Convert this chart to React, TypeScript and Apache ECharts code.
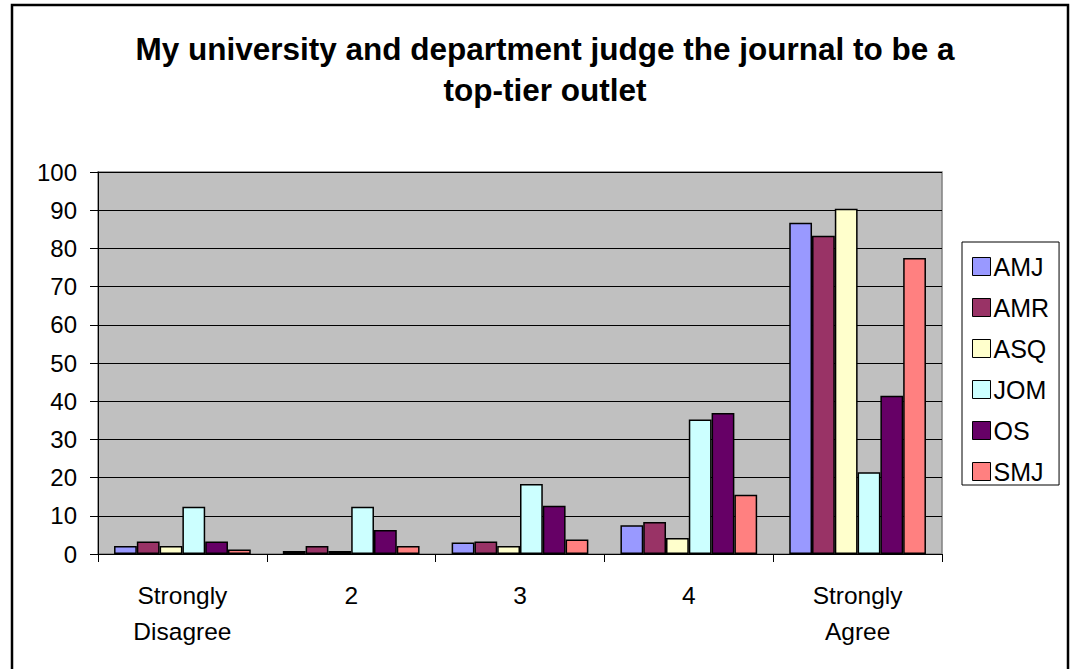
import React, { useEffect, useRef } from "react";
import * as echarts from "echarts";

const categories = ["Strongly\nDisagree", "2", "3", "4", "Strongly\nAgree"];
const seriesNames = ["AMJ", "AMR", "ASQ", "JOM", "OS", "SMJ"];
const amj = [2.1, 0.8, 3.0, 7.5, 86.7];
const amr = [3.3, 2.1, 3.3, 8.4, 83.3];
const asq = [2.1, 0.8, 2.1, 4.2, 90.4];
const jom = [12.4, 12.4, 18.3, 35.2, 21.4];
const os = [3.3, 6.3, 12.6, 36.9, 41.4];
const smj = [1.2, 2.1, 3.8, 15.5, 77.5];
const seriesValues = [amj, amr, asq, jom, os, smj];
const colors = ["#9999FF", "#993366", "#FFFFCC", "#CCFFFF", "#660066", "#FF8080"];
const yTicks = { min: 0, max: 100, interval: 10 };
const title = "My university and department judge the journal to be a\ntop-tier outlet";

export default function App() {
  const ref = useRef<HTMLDivElement>(null);
  useEffect(() => {
    if (!ref.current) return;
    const chart = echarts.init(ref.current, null, { renderer: "svg" });
    const font = "'Liberation Sans', Arial, sans-serif";
    chart.setOption({
      animation: false,
      backgroundColor: "#ffffff",
      textStyle: { fontFamily: font },
      title: {
        text: title,
        left: 540,
        textAlign: "center",
        top: 23,
        textStyle: {
          fontFamily: font,
          fontWeight: "bold",
          fontSize: 31.5,
          lineHeight: 41,
          color: "#000",
        },
      },
      graphic: [
        {
          type: "rect",
          shape: { x: 12, y: 5, width: 1056, height: 700 },
          style: { fill: "none", stroke: "#000", lineWidth: 2.5 },
          silent: true,
          z: 100,
        },
      ],
      legend: {
        orient: "vertical",
        left: 962,
        top: 242,
        width: 99,
        padding: [12, 10, 1, 10],
        itemWidth: 18,
        itemHeight: 18,
        itemGap: 16,
        borderColor: "#000",
        borderWidth: 1,
        icon: "rect",
        data: seriesNames,
        itemStyle: { borderColor: "#000", borderWidth: 1 },
        textStyle: { fontFamily: font, fontSize: 25, color: "#000", padding: [0, 0, 0, -2] },
      },
      grid: {
        left: 98,
        right: 128,
        top: 172,
        bottom: 115,
        show: true,
        backgroundColor: "#C0C0C0",
        borderColor: "#808080",
        borderWidth: 1.5,
      },
      xAxis: {
        type: "category",
        data: categories,
        axisLine: { show: true, lineStyle: { color: "#000", width: 1 } },
        axisTick: { show: true, length: 8, alignWithLabel: false, lineStyle: { color: "#000" } },
        axisLabel: {
          fontFamily: font,
          fontSize: 24.5,
          color: "#000",
          margin: 23,
          lineHeight: 36,
        },
      },
      yAxis: {
        type: "value",
        min: yTicks.min,
        max: yTicks.max,
        interval: yTicks.interval,
        axisLine: { show: true, lineStyle: { color: "#000", width: 1 } },
        axisTick: { show: true, length: 8, lineStyle: { color: "#000" } },
        splitLine: { show: true, lineStyle: { color: "#000", width: 1.2 } },
        axisLabel: { fontFamily: font, fontSize: 24, color: "#000", margin: 21 },
      },
      series: seriesNames.map((name, i) => ({
        name,
        type: "bar",
        data: seriesValues[i],
        barGap: "0%",
        barCategoryGap: "19%",
        itemStyle: { color: colors[i], borderColor: "#000", borderWidth: 1.5 },
      })),
    });
    return () => chart.dispose();
  }, []);
  return (
    <div
      ref={ref}
      style={{ position: "fixed", left: 0, top: 0, width: 1070, height: 669 }}
    />
  );
}
